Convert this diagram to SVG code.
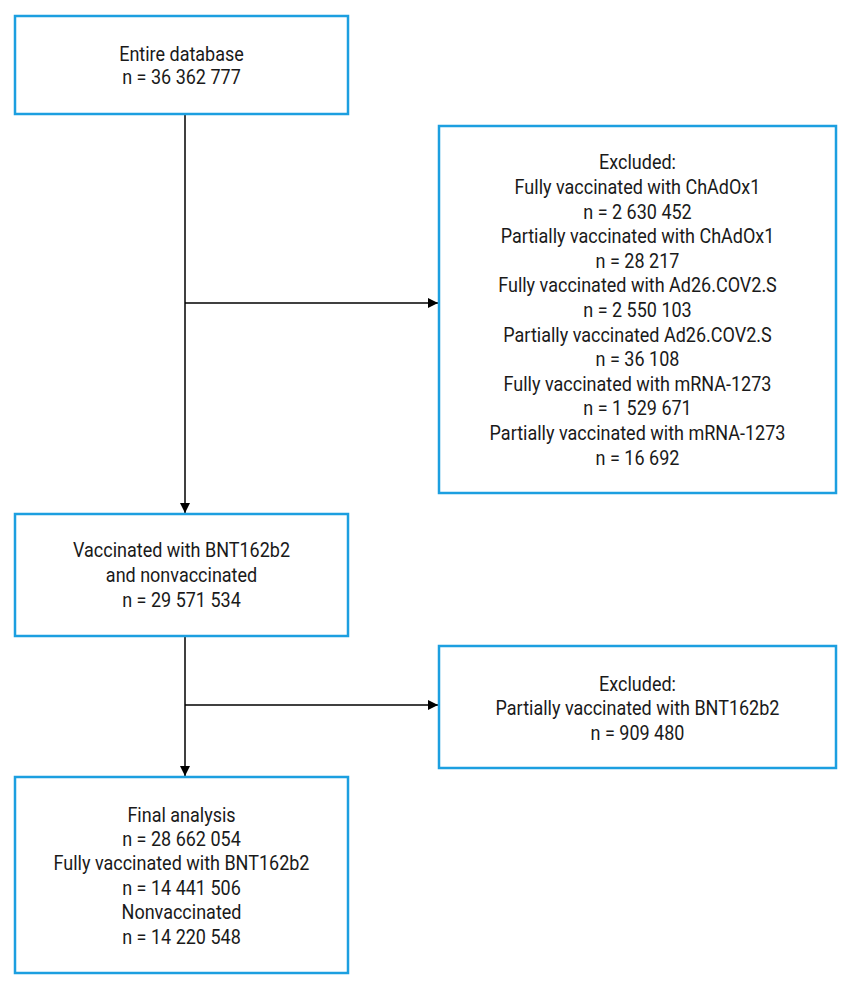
<svg xmlns="http://www.w3.org/2000/svg" width="857" height="995" viewBox="0 0 857 995">
<style>
.box{fill:#fff;stroke:#1c9fe0;stroke-width:2.5}
.t{font-family:Roboto,"Liberation Sans",sans-serif;font-size:20px;fill:#1a1a1a;text-anchor:middle}
.c{stroke:#000;stroke-width:1.5;fill:none}
</style>
<defs>
<marker id="ah" markerWidth="10" markerHeight="10" refX="10" refY="5" orient="auto" markerUnits="userSpaceOnUse">
<path d="M0,0 L10,5 L0,10 Z" fill="#000"/>
</marker>
</defs>
<rect width="857" height="995" fill="#fff"/>
<g id="connectors">
<line class="c" x1="185" y1="115" x2="185" y2="513" marker-end="url(#ah)"/>
<line class="c" x1="185" y1="303" x2="438" y2="303" marker-end="url(#ah)"/>
<line class="c" x1="185" y1="637" x2="185" y2="776" marker-end="url(#ah)"/>
<line class="c" x1="185" y1="705" x2="438" y2="705" marker-end="url(#ah)"/>
</g>
<g id="n1">
<rect class="box" x="15" y="16" width="333" height="98"/>
<g transform="translate(181.5 0) scale(0.9 1)">
<text class="t" x="0" y="61">Entire database</text>
<text class="t" x="0" y="84">n = 36 362 777</text>
</g>
</g>
<g id="n2">
<rect class="box" x="439" y="126" width="397" height="367"/>
<g transform="translate(637.5 0) scale(0.9 1)">
<text class="t" x="0" y="169">Excluded:</text>
<text class="t" x="0" y="194">Fully vaccinated with ChAdOx1</text>
<text class="t" x="0" y="219">n = 2 630 452</text>
<text class="t" x="0" y="243">Partially vaccinated with ChAdOx1</text>
<text class="t" x="0" y="268">n = 28 217</text>
<text class="t" x="0" y="292">Fully vaccinated with Ad26.COV2.S</text>
<text class="t" x="0" y="317">n = 2 550 103</text>
<text class="t" x="0" y="342">Partially vaccinated Ad26.COV2.S</text>
<text class="t" x="0" y="366">n = 36 108</text>
<text class="t" x="0" y="391">Fully vaccinated with mRNA-1273</text>
<text class="t" x="0" y="415">n = 1 529 671</text>
<text class="t" x="0" y="440">Partially vaccinated with mRNA-1273</text>
<text class="t" x="0" y="465">n = 16 692</text>
</g>
</g>
<g id="n3">
<rect class="box" x="15" y="514" width="333" height="122"/>
<g transform="translate(181.5 0) scale(0.9 1)">
<text class="t" x="0" y="557">Vaccinated with BNT162b2</text>
<text class="t" x="0" y="582">and nonvaccinated</text>
<text class="t" x="0" y="607">n = 29 571 534</text>
</g>
</g>
<g id="n4">
<rect class="box" x="439" y="646" width="397" height="122"/>
<g transform="translate(637.5 0) scale(0.9 1)">
<text class="t" x="0" y="691">Excluded:</text>
<text class="t" x="0" y="715">Partially vaccinated with BNT162b2</text>
<text class="t" x="0" y="740">n = 909 480</text>
</g>
</g>
<g id="n5">
<rect class="box" x="15" y="777" width="333" height="196"/>
<g transform="translate(181.5 0) scale(0.9 1)">
<text class="t" x="0" y="822">Final analysis</text>
<text class="t" x="0" y="846">n = 28 662 054</text>
<text class="t" x="0" y="870">Fully vaccinated with BNT162b2</text>
<text class="t" x="0" y="895">n = 14 441 506</text>
<text class="t" x="0" y="919">Nonvaccinated</text>
<text class="t" x="0" y="944">n = 14 220 548</text>
</g>
</g>
</svg>
